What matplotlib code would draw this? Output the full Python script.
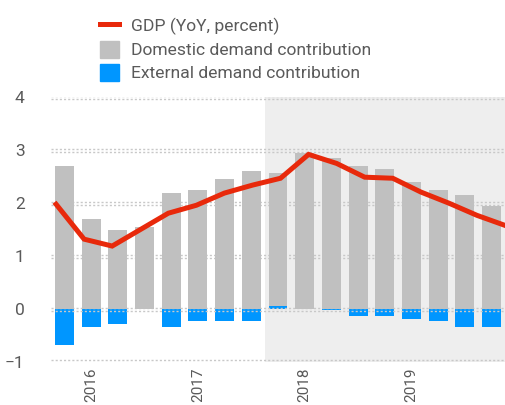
import numpy as np
import matplotlib
matplotlib.use("Agg")
import matplotlib.pyplot as plt
from matplotlib.lines import Line2D
from matplotlib.patches import Patch

# quarterly data, 17 quarters
domestic = [2.70, 1.70, 1.49, 1.55, 2.19, 2.25, 2.45, 2.60, 2.50,
            2.95, 2.85, 2.70, 2.64, 2.40, 2.25, 2.15, 1.95]
external = [-0.68, -0.34, -0.28, 0.0, -0.34, -0.23, -0.23, -0.23, 0.06,
            0.0, -0.02, -0.13, -0.13, -0.18, -0.22, -0.34, -0.34]
gdp = [1.98, 1.32, 1.19, 1.50, 1.81, 1.96, 2.19, 2.34, 2.47,
       2.92, 2.75, 2.49, 2.47, 2.21, 2.00, 1.77, 1.58]
year_pos = [1, 5, 9, 13]
year_labels = ["2016", "2017", "2018", "2019"]
y_ticks = [-1, 0, 1, 2, 3, 4]
shade_from = 7.5

RED = "#e8290b"
BLUE = "#0096ff"
GREY = "#c0c0c0"
TXT = "#5a5a5a"

plt.rcParams["font.family"] = ["Roboto", "DejaVu Sans"]

fig = plt.figure(figsize=(5.05, 4.05), dpi=100)
ax = fig.add_axes([0.101, 0.106, 0.899, 0.654])
x = np.arange(len(domestic))

ax.axvspan(shade_from, len(domestic), color="#eeeeee", zorder=0, lw=0)

ext = np.array(external)
dom_bottom = np.where(ext > 0, ext, 0)
ax.bar(x, ext, width=0.71, color=BLUE, zorder=1.5)
ax.bar(x, domestic, bottom=dom_bottom, width=0.71, color=GREY, zorder=3)

# double dotted grid lines
for t in y_ticks:
    for off in (0.03, -0.03):
        ax.axhline(t + off, color="#c8c8c8", lw=1, ls=(0, (1.5, 1.5)), zorder=2)

ax.set_xlim(-0.5, len(domestic) - 0.5)
ax.set_ylim(-1, 4)
ax.set_yticks(y_ticks)
ax.set_xticks(year_pos)
ax.set_xticklabels(year_labels, rotation=90, fontsize=11, color=TXT)
ax.tick_params(axis="y", length=0, pad=19, labelsize=12.5, labelcolor=TXT)
ax.tick_params(axis="x", length=0, pad=4)
for lab in ax.get_yticklabels():
    lab.set_horizontalalignment("right")
for s in ax.spines.values():
    s.set_visible(False)

# GDP line runs edge to edge on its own x scale
ax2 = ax.twiny()
ax2.plot(x, gdp, color=RED, lw=3.6, zorder=5, solid_joinstyle="miter")
ax2.set_xlim(-0.18, len(gdp) - 1)
ax2.set_ylim(-1, 4)
ax2.set_xticks([])
ax2.axis("off")

handles = [
    Line2D([0], [0], color=RED, lw=3.6),
    Patch(color=GREY),
    Patch(color=BLUE),
]
labels = ["GDP (YoY, percent)", "Domestic demand contribution",
          "External demand contribution"]
fig.legend(handles, labels, loc="upper left", bbox_to_anchor=(0.198, 0.958),
           frameon=False, fontsize=12.6, labelcolor=TXT, handlelength=1.1,
           handleheight=1.1, handletextpad=0.65, labelspacing=0.33,
           borderpad=0, borderaxespad=0)

fig.savefig("out.png", dpi=100)
